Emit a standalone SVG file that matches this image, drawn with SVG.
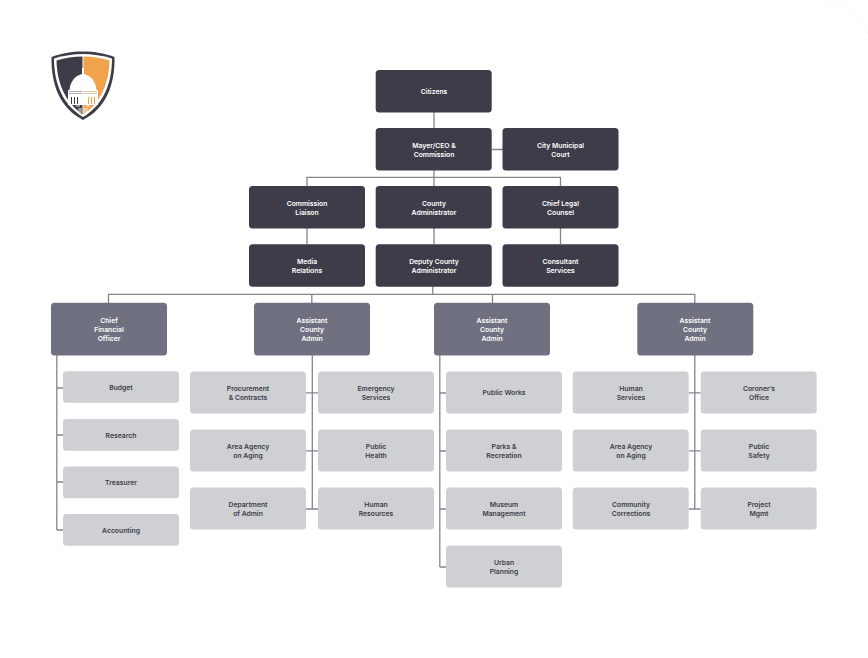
<svg xmlns="http://www.w3.org/2000/svg" width="868" height="658" viewBox="0 0 868 658">
<style>
text{font-family:Inter,"Liberation Sans",sans-serif;font-size:6.8px;font-weight:600;text-anchor:middle}
.d rect{fill:#3d3c48}.m rect{fill:#6f7080}.l rect{fill:#cfd0d4}
.d text,.m text{fill:#fff}.l text{fill:#3d3c48}
#connectors path{fill:none;stroke:#85858f;stroke-width:1.3}
</style>
<rect width="868" height="658" fill="#fff"/>
<path d="M828 0.5C842 2 856 10 866 26C867 29 867.500 32 867.500 36" fill="none" stroke="#dcdcdc" stroke-width="0.8" stroke-dasharray="1 5"/>
<g id="logo">
<path d="M83 51.500C72 51.500 60 53.500 51.500 57C51 85 60 108 83 120C106 108 115 85 114.500 57C106 53.500 94 51.500 83 51.500Z" fill="#3d3c48"/>
<path d="M83 54C74 54 63 55.500 54 58.500C54 84 63 105 83 117C103 105 112 84 112 58.500C103 55.500 92 54 83 54Z" fill="#fff"/>
<path d="M82.500 56.500C74 56.500 65 58 56.500 60.500C57 83 65 102 82.500 114.500Z" fill="#3d3c48"/>
<path d="M83.500 56.500C92 56.500 101 58 109.500 60.500C109 83 101 102 83.500 114.500Z" fill="#f0a34a"/>
<path d="M82 68H84V74C92 76 96 83 96.500 90H98V105H68V90H69.500C70 83 74 76 82 74Z" fill="#fff"/>
<path d="M69 91.500H82.500M69 93.500H82.500" stroke="#8f8f98" stroke-width="0.7"/>
<path d="M83.500 91.500H97M83.500 93.500H97" stroke="#e0b27a" stroke-width="0.7"/>
<path d="M71.500 97V104M74.500 97V104M77.500 97V104" stroke="#3d3c48" stroke-width="1"/>
<path d="M88.500 97V104M91.500 97V104M94.500 97V104" stroke="#f0a34a" stroke-width="1"/>
<path d="M76 106H80M79 108V112M81 108V113" stroke="#fff" stroke-width="0.9" fill="none"/>
<path d="M86 106H90M87 108V112M85 108V113" stroke="#fff" stroke-width="0.9" fill="none"/>
</g>
<g id="connectors">
<path d="M434 112V128M434 170V186M492 149.500H503M307 186V177.300H560.500V186M434 228V244M307 228V244M560.500 228V244"/>
<path d="M432.800 286V294.300M108.500 303V294.300H694.800V303M311.800 294.300V303M492.500 294.300V303"/>
<path d="M56.800 355V530M56.800 388H63M56.800 435H63M56.800 482H63M56.800 530H63"/>
<path d="M312.300 355V509M306 392.800H318M306 450.800H318M306 509H318"/>
<path d="M439.800 355V567M439.800 393H446M439.800 451H446M439.800 509H446M439.800 567H446"/>
<path d="M694.800 355V509M688.700 392.800H700.700M688.700 450.800H700.700M688.700 509H700.700"/>
</g>
<g id="n-citizens" class="d"><rect x="375.700" y="70" width="116" height="42.400" rx="3.500"/><text x="434" y="94">Citizens</text></g>
<g id="n-mayor" class="d"><rect x="375.700" y="128" width="116" height="42.400" rx="3.500"/><text x="434" y="148">Mayer/CEO &amp;</text><text x="434" y="157">Commission</text></g>
<g id="n-court" class="d"><rect x="502.500" y="128" width="116" height="42.400" rx="3.500"/><text x="560.500" y="148">City Municipal</text><text x="560.500" y="157">Court</text></g>
<g id="n-liaison" class="d"><rect x="249" y="186" width="116" height="42.400" rx="3.500"/><text x="307" y="206">Commission</text><text x="307" y="215">Liaison</text></g>
<g id="n-admin" class="d"><rect x="375.700" y="186" width="116" height="42.400" rx="3.500"/><text x="434" y="206">County</text><text x="434" y="215">Administrator</text></g>
<g id="n-legal" class="d"><rect x="502.500" y="186" width="116" height="42.400" rx="3.500"/><text x="560.500" y="206">Chief Legal</text><text x="560.500" y="215">Counsel</text></g>
<g id="n-media" class="d"><rect x="249" y="244.300" width="116" height="42.400" rx="3.500"/><text x="307" y="264">Media</text><text x="307" y="273">Relations</text></g>
<g id="n-deputy" class="d"><rect x="375.700" y="244.300" width="116" height="42.400" rx="3.500"/><text x="434" y="264">Deputy County</text><text x="434" y="273">Administrator</text></g>
<g id="n-consultant" class="d"><rect x="502.500" y="244.300" width="116" height="42.400" rx="3.500"/><text x="560.500" y="264">Consultant</text><text x="560.500" y="273">Services</text></g>
<g id="n-cfo" class="m"><rect x="51" y="302.700" width="116" height="52.700" rx="3.500"/><text x="109" y="323">Chief</text><text x="109" y="332">Financial</text><text x="109" y="341">Officer</text></g>
<g id="n-aca1" class="m"><rect x="254" y="302.700" width="116" height="52.700" rx="3.500"/><text x="312" y="323">Assistant</text><text x="312" y="332">County</text><text x="312" y="341">Admin</text></g>
<g id="n-aca2" class="m"><rect x="434" y="302.700" width="116" height="52.700" rx="3.500"/><text x="492" y="323">Assistant</text><text x="492" y="332">County</text><text x="492" y="341">Admin</text></g>
<g id="n-aca3" class="m"><rect x="637.300" y="302.700" width="116" height="52.700" rx="3.500"/><text x="695" y="323">Assistant</text><text x="695" y="332">County</text><text x="695" y="341">Admin</text></g>
<g id="n-budget" class="l"><rect x="63" y="371.300" width="116" height="31.500" rx="3.500"/><text x="121" y="390">Budget</text></g>
<g id="n-research" class="l"><rect x="63" y="419" width="116" height="31.700" rx="3.500"/><text x="121" y="438">Research</text></g>
<g id="n-treasurer" class="l"><rect x="63" y="466.500" width="116" height="31.700" rx="3.500"/><text x="121" y="485">Treasurer</text></g>
<g id="n-accounting" class="l"><rect x="63" y="514" width="116" height="31.700" rx="3.500"/><text x="121" y="533">Accounting</text></g>
<g id="n-procurement" class="l"><rect x="190" y="371.500" width="116" height="42" rx="3.500"/><text x="248" y="391">Procurement</text><text x="248" y="400">&amp; Contracts</text></g>
<g id="n-aging1" class="l"><rect x="190" y="429.500" width="116" height="42" rx="3.500"/><text x="248" y="449">Area Agency</text><text x="248" y="458">on Aging</text></g>
<g id="n-dept" class="l"><rect x="190" y="487.500" width="116" height="42" rx="3.500"/><text x="248" y="507">Department</text><text x="248" y="516">of Admin</text></g>
<g id="n-emergency" class="l"><rect x="318" y="371.500" width="116" height="42" rx="3.500"/><text x="376" y="391">Emergency</text><text x="376" y="400">Services</text></g>
<g id="n-health" class="l"><rect x="318" y="429.500" width="116" height="42" rx="3.500"/><text x="376" y="449">Public</text><text x="376" y="458">Health</text></g>
<g id="n-hr" class="l"><rect x="318" y="487.500" width="116" height="42" rx="3.500"/><text x="376" y="507">Human</text><text x="376" y="516">Resources</text></g>
<g id="n-works" class="l"><rect x="446" y="371.500" width="116" height="42" rx="3.500"/><text x="504" y="395">Public Works</text></g>
<g id="n-parks" class="l"><rect x="446" y="429.500" width="116" height="42" rx="3.500"/><text x="504" y="449">Parks &amp;</text><text x="504" y="458">Recreation</text></g>
<g id="n-museum" class="l"><rect x="446" y="487.500" width="116" height="42" rx="3.500"/><text x="504" y="507">Museum</text><text x="504" y="516">Management</text></g>
<g id="n-urban" class="l"><rect x="446" y="545.500" width="116" height="42" rx="3.500"/><text x="504" y="565">Urban</text><text x="504" y="574">Planning</text></g>
<g id="n-human" class="l"><rect x="572.700" y="371.500" width="116" height="42" rx="3.500"/><text x="631" y="391">Human</text><text x="631" y="400">Services</text></g>
<g id="n-aging2" class="l"><rect x="572.700" y="429.500" width="116" height="42" rx="3.500"/><text x="631" y="449">Area Agency</text><text x="631" y="458">on Aging</text></g>
<g id="n-community" class="l"><rect x="572.700" y="487.500" width="116" height="42" rx="3.500"/><text x="631" y="507">Community</text><text x="631" y="516">Corrections</text></g>
<g id="n-coroner" class="l"><rect x="700.700" y="371.500" width="116" height="42" rx="3.500"/><text x="759" y="391">Coroner’s</text><text x="759" y="400">Office</text></g>
<g id="n-safety" class="l"><rect x="700.700" y="429.500" width="116" height="42" rx="3.500"/><text x="759" y="449">Public</text><text x="759" y="458">Safety</text></g>
<g id="n-project" class="l"><rect x="700.700" y="487.500" width="116" height="42" rx="3.500"/><text x="759" y="507">Project</text><text x="759" y="516">Mgmt</text></g>
</svg>
